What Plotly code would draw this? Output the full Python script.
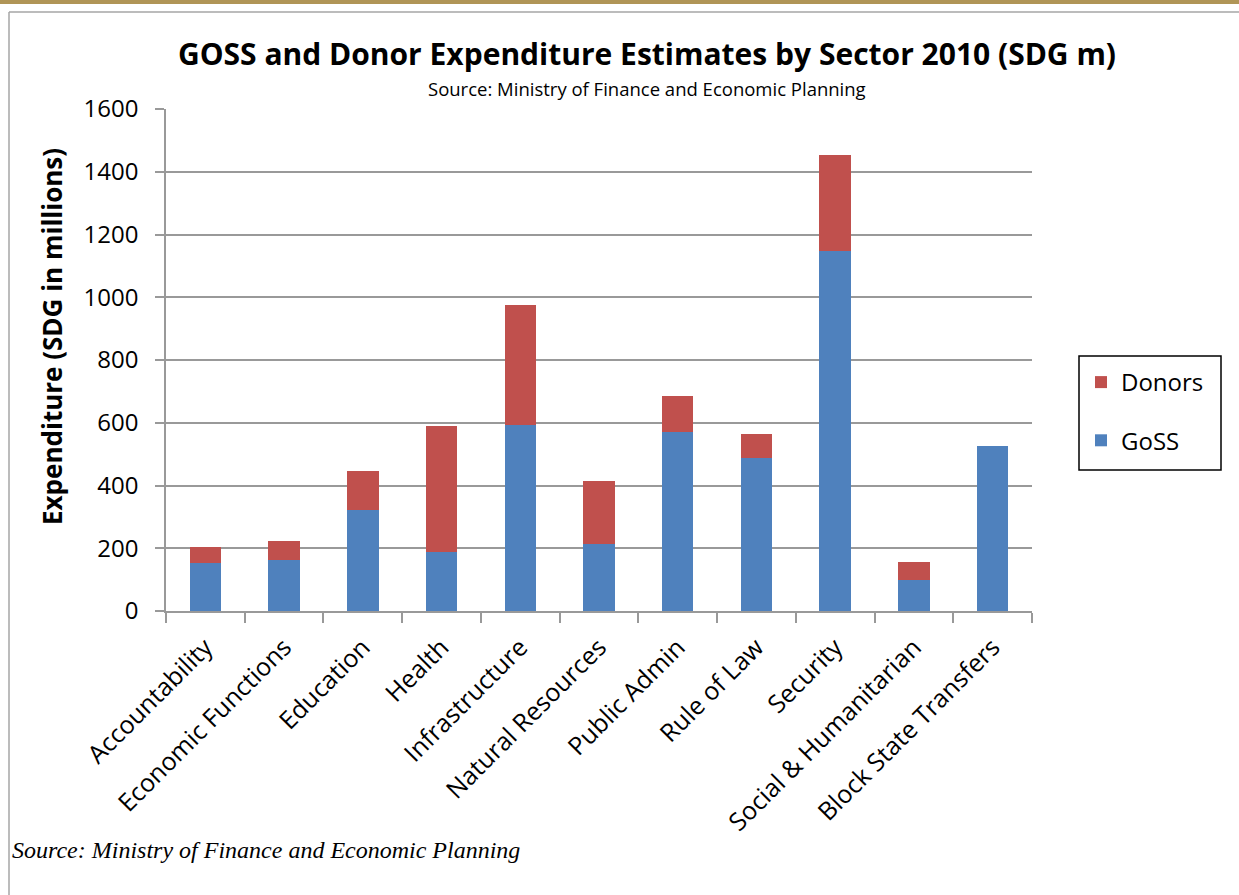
import plotly.graph_objects as go

categories = ["Accountability", "Economic Functions", "Education", "Health", "Infrastructure",
              "Natural Resources", "Public Admin", "Rule of Law", "Security",
              "Social & Humanitarian", "Block State Transfers"]
goss = [154, 163, 321, 189, 594, 214, 570, 487, 1148, 100, 526]
donors = [51, 60, 124, 401, 381, 200, 116, 78, 305, 56, 0]
y_ticks = [0, 200, 400, 600, 800, 1000, 1200, 1400, 1600]

W, H = 1239, 895
L, R, T, B = 166, 1032, 109, 611

def px(x):
    return (x - L) / (R - L)

def py(y):
    return (B - y) / (B - T)

fig = go.Figure()
fig.add_trace(go.Bar(x=categories, y=goss, name="GoSS", marker_color="#4F81BD",
                     marker_line_width=0, legendgroup="g", legendrank=2))
fig.add_trace(go.Bar(x=categories, y=donors, name="Donors", marker_color="#C0504D",
                     marker_line_width=0, legendgroup="d", legendrank=1))

fig.update_layout(
    width=W, height=H,
    barmode="stack", bargap=0.6,
    plot_bgcolor="white", paper_bgcolor="white",
    margin=dict(l=L, r=W - R, t=T, b=H - B),
    font=dict(family="Open Sans", color="black"),
    title=dict(text="<b>GOSS and Donor Expenditure Estimates by Sector 2010 (SDG m)</b>",
               x=647 / W, xanchor="center", y=1 - 54 / H, yanchor="middle",
               font=dict(size=30, family="Open Sans", color="black")),
    legend=dict(x=px(1081), y=py(360), xanchor="left", yanchor="top",
                borderwidth=0, bgcolor="rgba(0,0,0,0)",
                font=dict(size=24, family="Open Sans"),
                tracegroupgap=24, traceorder="grouped",
                itemclick=False),
    showlegend=True,
)

fig.update_xaxes(
    type="category", showgrid=False, showline=True, linecolor="#999999", linewidth=1.5,
    ticks="outside", tickson="boundaries", ticklen=10, tickcolor="#999999", tickwidth=1.5,
    tickangle=-45, tickfont=dict(size=25, family="Open Sans", color="black"),
    ticklabelstandoff=10,
)
fig.update_yaxes(
    range=[0, 1600], tickvals=y_ticks, showgrid=True, gridcolor="#999999", gridwidth=1.5,
    showline=True, linecolor="#999999", linewidth=1.5, zeroline=False,
    ticks="outside", ticklen=9, tickcolor="#999999", tickwidth=1.5,
    tickfont=dict(size=24, family="Open Sans", color="black"), ticklabelstandoff=12,
)

fig.add_annotation(text="<b>Expenditure (SDG in millions)</b>", textangle=-90,
                   xref="paper", yref="paper", x=px(52), y=py(337),
                   xanchor="center", yanchor="middle", showarrow=False,
                   font=dict(size=26, family="Open Sans", color="black"))

fig.add_annotation(text="Source: Ministry of Finance and Economic Planning",
                   xref="paper", yref="paper", x=px(647), y=py(88),
                   xanchor="center", yanchor="middle", showarrow=False,
                   font=dict(size=18.5, family="Open Sans", color="black"))

fig.add_annotation(text="<i>Source: Ministry of Finance and Economic Planning</i>",
                   xref="paper", yref="paper", x=px(10), y=py(850),
                   xanchor="left", yanchor="middle", showarrow=False,
                   font=dict(size=24, family="Liberation Serif", color="black"))

# legend box
fig.add_shape(type="rect", xref="paper", yref="paper", x0=px(1079), x1=px(1221),
              y0=py(356), y1=py(470), line=dict(color="black", width=1.5),
              fillcolor="rgba(0,0,0,0)", layer="above")

# page frame
fig.add_shape(type="rect", xref="paper", yref="paper", x0=px(0), x1=px(W), y0=py(0), y1=py(4),
              fillcolor="#B09557", line_width=0, layer="above")
fig.add_shape(type="line", xref="paper", yref="paper", x0=px(9), x1=px(W), y0=py(12), y1=py(12),
              line=dict(color="#A6A6A6", width=1.5), layer="above")
fig.add_shape(type="line", xref="paper", yref="paper", x0=px(9), x1=px(9), y0=py(12), y1=py(H),
              line=dict(color="#A6A6A6", width=1.5), layer="above")

fig.write_html("out.html", config={"displayModeBar": False},
               post_script="document.body.style.margin='0';")
